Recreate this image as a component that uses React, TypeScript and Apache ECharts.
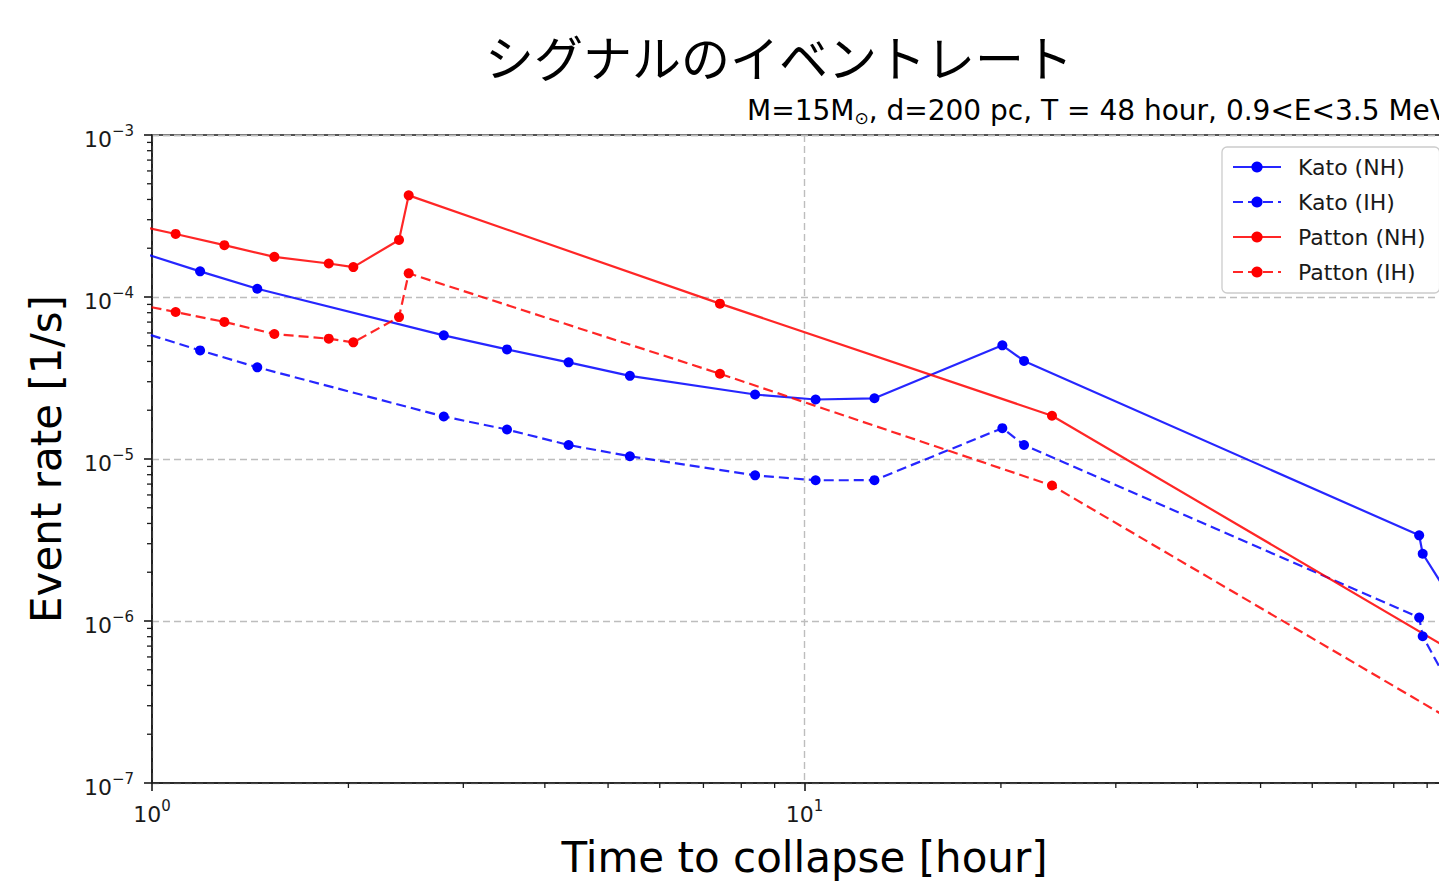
import React, { useEffect, useRef } from 'react';
import * as echarts from 'echarts';

// Time to collapse [hour] for each model
const katoTime = [0.9, 1.185, 1.45, 2.8, 3.5, 4.35, 5.4, 8.4, 10.4, 12.8, 20.1, 21.7, 87.5, 88.6, 100];
const pattonTime = [0.9, 1.087, 1.291, 1.54, 1.866, 2.035, 2.391, 2.474, 7.42, 23.95, 100];

// Event rate [1/s]
const katoNH = [2.05e-4, 1.44e-4, 1.125e-4, 5.8e-5, 4.75e-5, 3.95e-5, 3.26e-5, 2.5e-5, 2.33e-5, 2.37e-5, 5.03e-5, 4.03e-5, 3.38e-6, 2.6e-6, 1.2e-6];
const katoIH = [6.6e-5, 4.68e-5, 3.68e-5, 1.83e-5, 1.52e-5, 1.22e-5, 1.04e-5, 7.93e-6, 7.39e-6, 7.4e-6, 1.55e-5, 1.22e-5, 1.05e-6, 8.05e-7, 3.3e-7];
const pattonNH = [2.9e-4, 2.45e-4, 2.09e-4, 1.77e-4, 1.61e-4, 1.53e-4, 2.25e-4, 4.24e-4, 9.1e-5, 1.85e-5, 6.3e-7];
const pattonIH = [9.4e-5, 8.08e-5, 7.02e-5, 5.91e-5, 5.53e-5, 5.25e-5, 7.52e-5, 1.4e-4, 3.36e-5, 6.86e-6, 2.34e-7];

const seriesNames = ['Kato (NH)', 'Kato (IH)', 'Patton (NH)', 'Patton (IH)'];

const xRange = [1, 100];
const yRange = [1e-7, 1e-3];
const xMinorBases = [1, 10];
const yMinorBases = [1e-7, 1e-6, 1e-5, 1e-4];
const minorSteps = [2, 3, 4, 5, 6, 7, 8, 9];

const titleText = 'シグナルのイベントレート';
const subtitleParts = ['M=15M', '⊙', ', d=200 pc, T = 48 hour, 0.9<E<3.5 MeV'];
const xName = 'Time to collapse [hour]';
const yName = 'Event rate [1/s]';

const BLUE = '#0000ff';
const RED = '#ff0000';
const INK = '#1a1a1a';
const FONT = 'DejaVu Sans';

const GRID = { left: 152, top: 135, width: 1305, height: 648 };

const powerLabel = (v: number) => {
  const e = Math.round(Math.log10(v));
  const s = e < 0 ? '\u2212' + Math.abs(e) : String(e);
  return `{b|10}{s|${s}}`;
};

const labelRich = {
  b: { fontFamily: FONT, fontSize: 22, color: INK, lineHeight: 27, verticalAlign: 'bottom' },
  s: { fontFamily: FONT, fontSize: 15, color: INK, lineHeight: 16, verticalAlign: 'top' },
};

const makeSeries = (name: string, xs: number[], ys: number[], color: string, dashed: boolean) => ({
  type: 'line',
  name,
  data: xs.map((t, i) => [t, ys[i]]),
  symbol: 'circle',
  symbolSize: 10,
  showSymbol: true,
  clip: true,
  lineStyle: { color, width: 2.2, type: dashed ? [10, 5] : 'solid', opacity: 0.85 },
  itemStyle: { color },
  emphasis: { disabled: true },
});

export default function App() {
  const ref = useRef<HTMLDivElement>(null);

  useEffect(() => {
    if (!ref.current) return;
    const chart = echarts.init(ref.current, null, { renderer: 'svg' });

    const axisLine = { show: true, lineStyle: { color: INK, width: 1.6 } };
    const axisTick = { show: true, length: 8, lineStyle: { color: INK, width: 1.6 } };
    const splitLine = { show: true, lineStyle: { color: '#bdbdbd', width: 1.4, type: [7, 4] } };

    chart.setOption({
      animation: false,
      backgroundColor: '#ffffff',
      grid: { ...GRID, show: true, borderColor: INK, borderWidth: 1.6, backgroundColor: 'transparent' },
      xAxis: {
        type: 'log',
        logBase: 10,
        min: xRange[0],
        max: xRange[1],
        splitNumber: 2,
        axisLine,
        axisTick,
        splitLine,
        axisLabel: { formatter: powerLabel, rich: labelRich, margin: 15 },
        name: xName,
        nameLocation: 'middle',
        nameGap: 53,
        nameTextStyle: { fontFamily: FONT, fontSize: 42, color: '#000' },
      },
      yAxis: {
        type: 'log',
        logBase: 10,
        min: yRange[0],
        max: yRange[1],
        splitNumber: 4,
        axisLine,
        axisTick,
        splitLine,
        axisLabel: { formatter: powerLabel, rich: labelRich, margin: 18, padding: [4, 0, 0, 0] },
        name: yName,
        nameLocation: 'middle',
        nameGap: 85,
        nameTextStyle: { fontFamily: FONT, fontSize: 42, color: '#000' },
      },
      legend: {
        orient: 'vertical',
        left: 1222,
        top: 147,
        itemWidth: 48,
        itemHeight: 14,
        itemGap: 13,
        padding: [9, 14, 10, 10],
        backgroundColor: 'rgba(255,255,255,0.85)',
        borderColor: '#cccccc',
        borderWidth: 1.3,
        borderRadius: 5,
        textStyle: { fontFamily: FONT, fontSize: 22, color: INK, padding: [0, 0, 0, 12] },
        data: seriesNames,
      },
      series: [
        makeSeries(seriesNames[0], katoTime, katoNH, BLUE, false),
        makeSeries(seriesNames[1], katoTime, katoIH, BLUE, true),
        makeSeries(seriesNames[2], pattonTime, pattonNH, RED, false),
        makeSeries(seriesNames[3], pattonTime, pattonIH, RED, true),
      ],
    });

    // Minor ticks at 2..9 × each decade, placed through the axes' own scales
    const minor: any[] = [];
    xMinorBases.forEach((b) =>
      minorSteps.forEach((k) => {
        const p = chart.convertToPixel({ gridIndex: 0 }, [b * k, yRange[0]]) as number[];
        minor.push({ type: 'line', shape: { x1: p[0], y1: p[1], x2: p[0], y2: p[1] + 5 }, style: { stroke: INK, lineWidth: 1.3 }, silent: true });
      })
    );
    yMinorBases.forEach((b) =>
      minorSteps.forEach((k) => {
        const p = chart.convertToPixel({ gridIndex: 0 }, [xRange[0], b * k]) as number[];
        minor.push({ type: 'line', shape: { x1: p[0] - 5, y1: p[1], x2: p[0], y2: p[1] }, style: { stroke: INK, lineWidth: 1.3 }, silent: true });
      })
    );

    chart.setOption({
      graphic: [
        {
          type: 'text',
          x: 779,
          y: 55,
          style: {
            text: titleText,
            fontFamily: 'Noto Sans CJK JP',
            fontSize: 49,
            fill: '#000',
            align: 'center',
            verticalAlign: 'middle',
          },
          silent: true,
        },
        {
          type: 'text',
          x: 1449,
          y: 110,
          style: {
            text: `{a|${subtitleParts[0]}}{s|${subtitleParts[1]}}{a|${subtitleParts[2]}}`,
            align: 'right',
            verticalAlign: 'middle',
            rich: {
              a: { fontFamily: FONT, fontSize: 28, fill: '#000', lineHeight: 32, verticalAlign: 'middle' },
              s: { fontFamily: FONT, fontSize: 17, fill: '#000', lineHeight: 32, verticalAlign: 'bottom' },
            },
          },
          silent: true,
        },
        ...minor,
      ],
    });

    return () => chart.dispose();
  }, []);

  return (
    <div style={{ position: 'fixed', left: 0, top: 0, width: 1439, height: 888, overflow: 'hidden', background: '#fff' }}>
      <div ref={ref} style={{ width: 1520, height: 888 }} />
    </div>
  );
}
